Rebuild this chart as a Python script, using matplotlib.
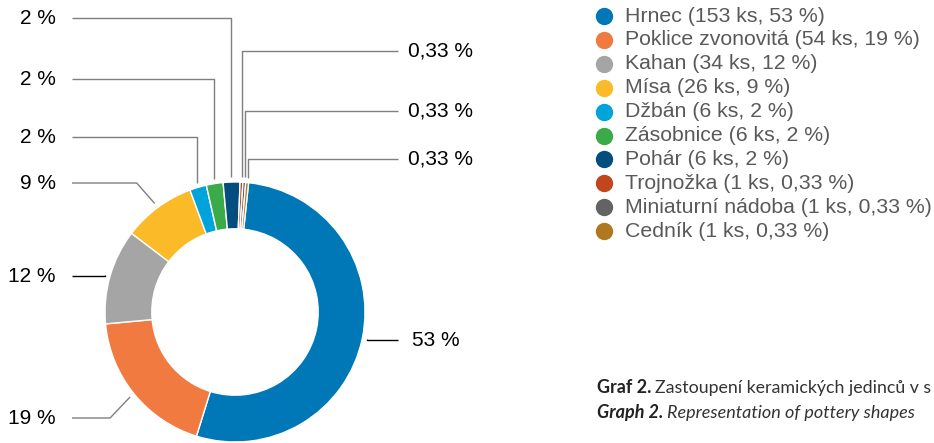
import numpy as np
import matplotlib.pyplot as plt

# data
names = ["Hrnec", "Poklice zvonovitá", "Kahan", "Mísa", "Džbán", "Zásobnice",
         "Pohár", "Trojnožka", "Miniaturní nádoba", "Cedník"]
counts = [153, 54, 34, 26, 6, 6, 6, 1, 1, 1]
pct_labels = ["53 %", "19 %", "12 %", "9 %", "2 %", "2 %", "2 %",
              "0,33 %", "0,33 %", "0,33 %"]
colors = ["#0077B6", "#F07A40", "#A5A5A5", "#FBBA27", "#00A3DA", "#3BAA48",
          "#044D7F", "#C1461C", "#636363", "#B0781E"]

# label layout (pixel rows from top, side, elbow offset)
label_rows = [340, 418, 276, 183, 137, 79, 18, 51, 111, 159]
label_side = ["r", "l", "l", "l", "l", "l", "l", "r", "r", "r"]
elbow_dx = [0, -20, 0, -18, 0, 0, 0, 0, 0, 0]

W, H = 934, 443
fig = plt.figure(figsize=(W / 100, H / 100), dpi=100)
ax = fig.add_axes([0, 0, 1, 1])

cx, cy, R = 235, H - 312, 130
wedges, _ = ax.pie(counts, colors=colors, startangle=84, counterclock=False,
                   radius=R, center=(cx, cy),
                   wedgeprops=dict(width=R * 0.36, edgecolor="white", linewidth=1))
ax.set_xlim(0, W)
ax.set_ylim(0, H)
ax.set_aspect("equal")
ax.axis("off")

font = "Liberation Sans"
for i, w in enumerate(wedges):
    mid = np.deg2rad((w.theta1 + w.theta2) / 2)
    ax_x = cx + (R + 5) * np.cos(mid)
    ax_y = cy + (R + 5) * np.sin(mid)
    ly = H - label_rows[i]
    ex = ax_x + elbow_dx[i]
    line_col = "black" if i in (0, 2) else "#7f7f7f"
    if label_side[i] == "l":
        end_x, tx, ha = 72, 56, "right"
    else:
        end_x, tx, ha = 398, 408 if i else 412, "left"
    ax.plot([ax_x, ex, end_x], [ax_y, ly, ly], color=line_col, lw=1,
            solid_capstyle="butt")
    ax.text(tx, ly, pct_labels[i], ha=ha, va="center", fontsize=15,
            family=font, color="black")

# legend
for i, name in enumerate(names):
    y = H - (16 + i * 23.9)
    pct = pct_labels[i]
    ax.plot(604, y, "o", ms=12.5, color=colors[i], mec="none")
    ax.text(625, y, f"{name} ({counts[i]} ks, {pct})", ha="left", va="center",
            fontsize=15.3, family=font, color="#595959")

# caption (only the part visible in the source image)
fig.canvas.draw()
r = fig.canvas.get_renderer()
cap = [("Graf 2.", "Zastoupení keramických jedinců v s", "normal", 393),
       ("Graph 2.", "Representation of pottery shapes", "italic", 418)]
for bold, rest, style, row in cap:
    t = fig.text(597 / W, 1 - row / H, bold, fontsize=13, family="Lato",
                 weight="bold", style=style, color="#222222", va="baseline")
    bb = t.get_window_extent(renderer=r)
    t2 = fig.text((bb.x1 + 4) / W, 1 - row / H, rest, fontsize=13,
                  family="Lato", style=style, color="#333333", va="baseline")
    size = 13
    while t2.get_window_extent(renderer=r).x1 > W - 2 and size > 8:
        size -= 0.25
        t2.set_fontsize(size)

fig.savefig("out.png", dpi=100)
